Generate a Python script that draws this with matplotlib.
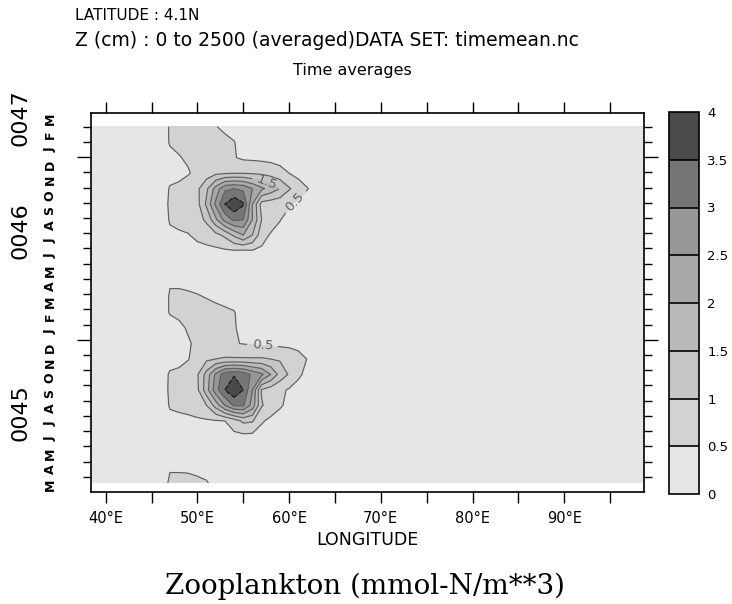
import numpy as np
import matplotlib
matplotlib.use("Agg")
import matplotlib.pyplot as plt
from matplotlib.colors import ListedColormap, BoundaryNorm
from matplotlib.transforms import blended_transform_factory

# longitudes of the active block (deg E); outside it the field is below 0.5
lon_block = [45, 46, 47, 48, 49, 50, 51, 52, 53, 54, 55, 56, 57, 58, 59, 60, 61, 62, 63, 64]
lon_west, lon_east = 38.4, 98.7
background = 0.15

# zooplankton (mmol-N/m**3), one row per month, Mar 0045 .. Feb 0047
zoo = [
    [0.15, 0.15, 0.60, 0.60, 0.60, 0.56, 0.52, 0.42, 0.30, 0.25, 0.20, 0.20, 0.15, 0.15, 0.15, 0.15, 0.15, 0.15, 0.15, 0.15],  # Mar 45
    [0.15, 0.15, 0.45, 0.45, 0.44, 0.42, 0.40, 0.35, 0.30, 0.25, 0.20, 0.18, 0.15, 0.15, 0.15, 0.15, 0.15, 0.15, 0.15, 0.15],  # Apr
    [0.15, 0.15, 0.30, 0.30, 0.30, 0.30, 0.30, 0.30, 0.30, 0.30, 0.30, 0.25, 0.20, 0.15, 0.15, 0.15, 0.15, 0.15, 0.15, 0.15],  # May
    [0.15, 0.15, 0.25, 0.28, 0.30, 0.30, 0.32, 0.34, 0.36, 0.38, 0.38, 0.36, 0.32, 0.28, 0.22, 0.18, 0.15, 0.15, 0.15, 0.15],  # Jun
    [0.15, 0.15, 0.35, 0.38, 0.40, 0.42, 0.44, 0.46, 0.50, 0.75, 1.10, 1.05, 0.55, 0.40, 0.32, 0.25, 0.20, 0.15, 0.15, 0.15],  # Jul
    [0.15, 0.15, 0.55, 0.60, 0.65, 0.78, 1.00, 1.70, 2.50, 3.05, 3.05, 2.30, 1.05, 0.75, 0.55, 0.40, 0.30, 0.20, 0.15, 0.15],  # Aug
    [0.15, 0.15, 0.60, 0.65, 0.75, 0.90, 1.80, 2.80, 3.50, 3.90, 3.50, 2.50, 0.95, 0.75, 0.60, 0.45, 0.30, 0.20, 0.15, 0.15],  # Sep
    [0.15, 0.15, 0.58, 0.62, 0.72, 0.95, 1.70, 2.60, 3.30, 3.45, 3.30, 2.90, 2.60, 2.00, 1.30, 0.95, 0.60, 0.35, 0.20, 0.15],  # Oct
    [0.15, 0.15, 0.25, 0.35, 0.48, 0.70, 0.90, 1.00, 1.05, 1.05, 1.05, 1.05, 1.05, 1.00, 0.95, 0.90, 0.72, 0.48, 0.30, 0.15],  # Nov
    [0.15, 0.15, 0.20, 0.30, 0.45, 0.60, 0.62, 0.62, 0.60, 0.53, 0.48, 0.45, 0.42, 0.40, 0.38, 0.35, 0.30, 0.25, 0.20, 0.15],  # Dec
    [0.15, 0.15, 0.20, 0.40, 0.55, 0.60, 0.62, 0.62, 0.60, 0.53, 0.40, 0.35, 0.30, 0.28, 0.25, 0.22, 0.20, 0.18, 0.15, 0.15],  # Jan 46
    [0.15, 0.15, 0.55, 0.60, 0.60, 0.60, 0.60, 0.58, 0.56, 0.52, 0.35, 0.25, 0.20, 0.20, 0.18, 0.15, 0.15, 0.15, 0.15, 0.15],  # Feb
    [0.15, 0.15, 0.56, 0.56, 0.54, 0.52, 0.49, 0.45, 0.40, 0.35, 0.28, 0.20, 0.15, 0.15, 0.15, 0.15, 0.15, 0.15, 0.15, 0.15],  # Mar
    [0.15, 0.15, 0.45, 0.45, 0.44, 0.42, 0.40, 0.35, 0.30, 0.25, 0.20, 0.18, 0.15, 0.15, 0.15, 0.15, 0.15, 0.15, 0.15, 0.15],  # Apr
    [0.15, 0.15, 0.30, 0.30, 0.30, 0.30, 0.30, 0.30, 0.32, 0.34, 0.35, 0.34, 0.30, 0.25, 0.20, 0.15, 0.15, 0.15, 0.15, 0.15],  # May
    [0.15, 0.15, 0.30, 0.32, 0.34, 0.36, 0.38, 0.40, 0.44, 0.48, 0.45, 0.48, 0.42, 0.35, 0.28, 0.22, 0.18, 0.15, 0.15, 0.15],  # Jun
    [0.15, 0.15, 0.40, 0.45, 0.48, 0.60, 0.70, 0.85, 1.10, 1.60, 2.00, 1.50, 0.70, 0.45, 0.35, 0.28, 0.22, 0.18, 0.15, 0.15],  # Jul
    [0.15, 0.15, 0.55, 0.60, 0.65, 0.80, 1.10, 1.90, 2.70, 3.10, 3.00, 2.00, 1.00, 0.75, 0.52, 0.35, 0.25, 0.20, 0.15, 0.15],  # Aug
    [0.15, 0.15, 0.60, 0.65, 0.72, 0.85, 1.60, 2.60, 3.50, 3.90, 3.55, 2.00, 0.80, 0.72, 0.65, 0.55, 0.38, 0.25, 0.18, 0.15],  # Sep
    [0.15, 0.15, 0.55, 0.60, 0.70, 0.90, 1.40, 2.20, 2.90, 3.00, 2.90, 2.50, 2.10, 1.80, 1.50, 1.05, 0.75, 0.52, 0.30, 0.15],  # Oct
    [0.15, 0.15, 0.30, 0.38, 0.47, 0.60, 0.75, 0.90, 0.95, 0.98, 0.98, 0.95, 0.90, 0.80, 0.65, 0.50, 0.35, 0.25, 0.20, 0.15],  # Nov
    [0.15, 0.15, 0.35, 0.48, 0.55, 0.60, 0.62, 0.62, 0.60, 0.53, 0.42, 0.40, 0.38, 0.36, 0.34, 0.30, 0.25, 0.20, 0.15, 0.15],  # Dec
    [0.15, 0.15, 0.55, 0.58, 0.60, 0.60, 0.60, 0.58, 0.56, 0.51, 0.40, 0.35, 0.30, 0.25, 0.20, 0.18, 0.15, 0.15, 0.15, 0.15],  # Jan 47
    [0.15, 0.15, 0.56, 0.57, 0.57, 0.56, 0.54, 0.51, 0.45, 0.40, 0.35, 0.30, 0.25, 0.20, 0.18, 0.15, 0.15, 0.15, 0.15, 0.15],  # Feb
]
# time axis in months since 1 Jan 0045
time_first, time_last = 2.6, 26.0

levels = [0, 0.5, 1, 1.5, 2, 2.5, 3, 3.5, 4]
level_labels = ["0", "0.5", "1", "1.5", "2", "2.5", "3", "3.5", "4"]
grays = ["#e6e6e6", "#d2d2d2", "#c6c6c6", "#bababa", "#a9a9a9", "#979797", "#767676", "#4a4a4a"]

month_letters = ["M", "A", "M", "J", "J", "A", "S", "O", "N", "D",
                 "J", "F", "M", "A", "M", "J", "J", "A", "S", "O", "N", "D",
                 "J", "F", "M"]
first_month = 2  # March 0045
years = ["0045", "0046", "0047"]
year_pos = [7.2, 19.2, 26.6]

lon_ticks = [40, 50, 60, 70, 80, 90]
lon_labels = ["40°E", "50°E", "60°E", "70°E", "80°E", "90°E"]

# build grid
field = np.pad(np.array(zoo), ((0, 0), (1, 1)), constant_values=background)
lon = np.array([lon_west] + lon_block + [lon_east])
time = np.linspace(time_first, time_last, len(zoo))

plt.rcParams["font.family"] = "DejaVu Sans"
fig = plt.figure(figsize=(7.32, 6.04), dpi=100)
ax = fig.add_axes([91 / 732, 1 - 492 / 604, 553 / 732, 379 / 604])
cax = fig.add_axes([669 / 732, 1 - 494 / 604, 30 / 732, 382 / 604])

cmap = ListedColormap(grays)
norm = BoundaryNorm(levels, cmap.N)
cf = ax.contourf(lon, time, field, levels=levels, cmap=cmap, norm=norm)

line_kw = dict(colors="#606060", linewidths=0.85)
lab_kw = dict(inline=True, fontsize=9.5, colors="#606060", fmt="%g")
c05 = ax.contour(lon, time, field, levels=[0.5], **line_kw)
ax.clabel(c05, manual=[(57.1, 11.5), (60.5, 21.2)], **lab_kw)
c15 = ax.contour(lon, time, field, levels=[1.5], **line_kw)
ax.clabel(c15, manual=[(57.6, 22.3)], **lab_kw)
ax.contour(lon, time, field, levels=[1, 2, 2.5, 3], **line_kw)
ax.contour(lon, time, field, levels=[3.5], colors="#202020", linewidths=0.9,
           linestyles="dashed")

ax.set_xlim(lon_west, lon_east)
ax.set_ylim(2.0, 26.9)

ax.set_xticks(lon_ticks)
ax.set_xticklabels(lon_labels, fontsize=10.5)
ax.set_xticks([45, 55, 65, 75, 85, 95], minor=True)
ax.tick_params(axis="x", which="both", direction="out", length=8, width=1,
               top=True, bottom=True, pad=6)
ax.set_xlabel("LONGITUDE", fontsize=12.5, labelpad=3)

ax.set_yticks([12, 24])
ax.set_yticklabels([])
ax.set_yticks([m for m in range(3, 27) if m not in (12, 24)], minor=True)
ax.tick_params(axis="y", which="major", direction="out", length=10, width=1,
               left=True, right=True)
ax.tick_params(axis="y", which="minor", direction="out", length=5.5, width=1,
               left=True, right=True)
for s in ax.spines.values():
    s.set_linewidth(1.2)

tr = blended_transform_factory(ax.transAxes, ax.transData)
for i, letter in enumerate(month_letters):
    ax.text(-0.074, first_month + i + 0.5, letter, transform=tr, rotation=90,
            ha="center", va="center", fontsize=9, fontweight="bold", clip_on=False)
for yr, pos in zip(years, year_pos):
    ax.text(-0.128, pos, yr, transform=tr, rotation=90, ha="center", va="center",
            fontsize=16, clip_on=False)

cb = fig.colorbar(cf, cax=cax, ticks=levels, drawedges=True)
cb.ax.set_yticklabels(level_labels, fontsize=9.5)
cb.ax.tick_params(length=0, pad=6)
cb.outline.set_linewidth(1.2)
cb.dividers.set_linewidth(1.2)

fig.text(75 / 732, 1 - 16 / 604, "LATITUDE : 4.1N", fontsize=11, va="center")
fig.text(75 / 732, 1 - 41 / 604, "Z (cm) : 0 to 2500 (averaged)DATA SET: timemean.nc",
         fontsize=13.5, va="center")
fig.text(352 / 732, 1 - 71 / 604, "Time averages", fontsize=11.5, ha="center", va="center")
fig.text(365 / 732, 1 - 586 / 604, "Zooplankton (mmol-N/m**3)", fontsize=20,
         family="DejaVu Serif", ha="center", va="center")

fig.savefig("out.png", dpi=100)
